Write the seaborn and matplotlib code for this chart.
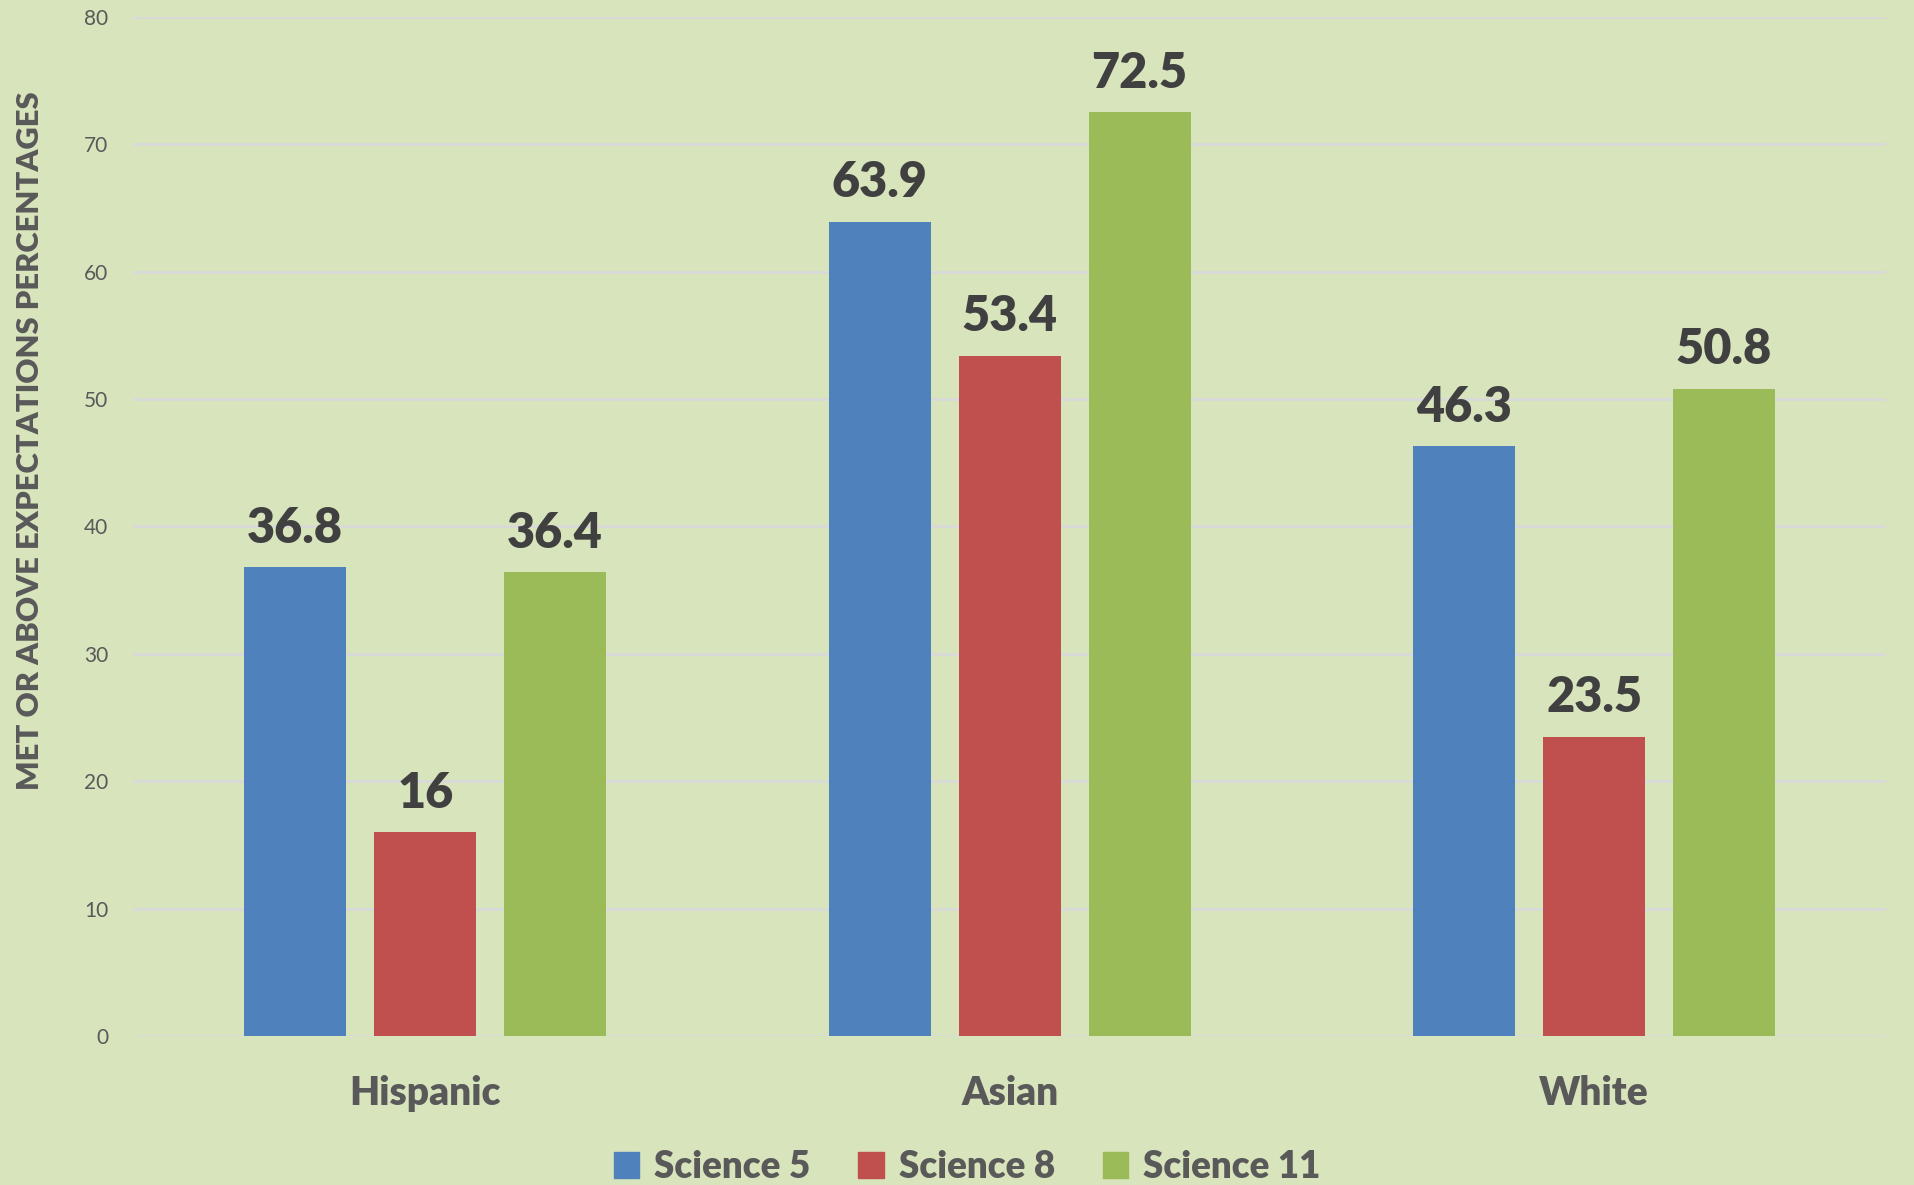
import numpy as np
import pandas as pd
import matplotlib.pyplot as plt
import seaborn as sns

groups = ['Hispanic', 'Asian', 'White']
subjects = ['Science 5', 'Science 8', 'Science 11']
science5 = [36.8, 63.9, 46.3]
science8 = [16, 53.4, 23.5]
science11 = [36.4, 72.5, 50.8]
colors = ['#4F81BD', '#C0504D', '#9BBB59']

df = pd.DataFrame({
    'group': groups * 3,
    'subject': [s for s in subjects for _ in groups],
    'value': science5 + science8 + science11,
})

bg = '#D8E4BC'
sns.set_style('white')
plt.rcParams['font.family'] = ['Lato', 'DejaVu Sans']

fig = plt.figure(figsize=(19.15, 11.85), dpi=100, facecolor=bg)
ax = fig.add_axes([0.0695, 0.1257, 0.9155, 0.86])
ax.set_facecolor(bg)

sns.barplot(data=df, x='group', y='value', hue='subject', order=groups,
            hue_order=subjects, palette=colors, width=0.667, gap=0.215,
            saturation=1, linewidth=0, ax=ax, zorder=3)

for c in ax.containers:
    labels = ['%g' % v for v in c.datavalues]
    ax.bar_label(c, labels=labels, padding=12, fontsize=35, fontweight='heavy',
                 color='#404040')

ax.set_ylim(0, 80)
ax.set_xlim(-0.5, 2.5)
ax.set_yticks(np.arange(0, 81, 10))
ax.yaxis.grid(True, color='#D9D9D9', lw=2, zorder=0)
ax.set_axisbelow(True)
for s in ax.spines.values():
    s.set_visible(False)
ax.tick_params(axis='y', labelsize=15, colors='#595959', length=0, pad=18)
ax.tick_params(axis='x', labelsize=28, colors='#595959', length=0, pad=28)
for t in ax.get_xticklabels():
    t.set_fontweight('heavy')
ax.set_xlabel('')
ax.set_ylabel('MET OR ABOVE EXPECTATIONS PERCENTAGES', fontsize=22.3,
              fontweight='heavy', color='#595959')
ax.yaxis.set_label_coords(-0.051, 0.584)

ax.legend_.remove()
handles = [plt.Rectangle((0, 0), 1, 1, color=c) for c in colors]
fig.legend(handles, subjects, loc='lower center', ncol=3, frameon=False,
           bbox_to_anchor=(0.505, -0.027), prop={'size': 26.5, 'weight': 'heavy'},
           labelcolor='#595959', handlelength=0.7, handleheight=0.7,
           handletextpad=0.4, columnspacing=1.3)

fig.savefig('out.png', dpi=100, facecolor=bg)
